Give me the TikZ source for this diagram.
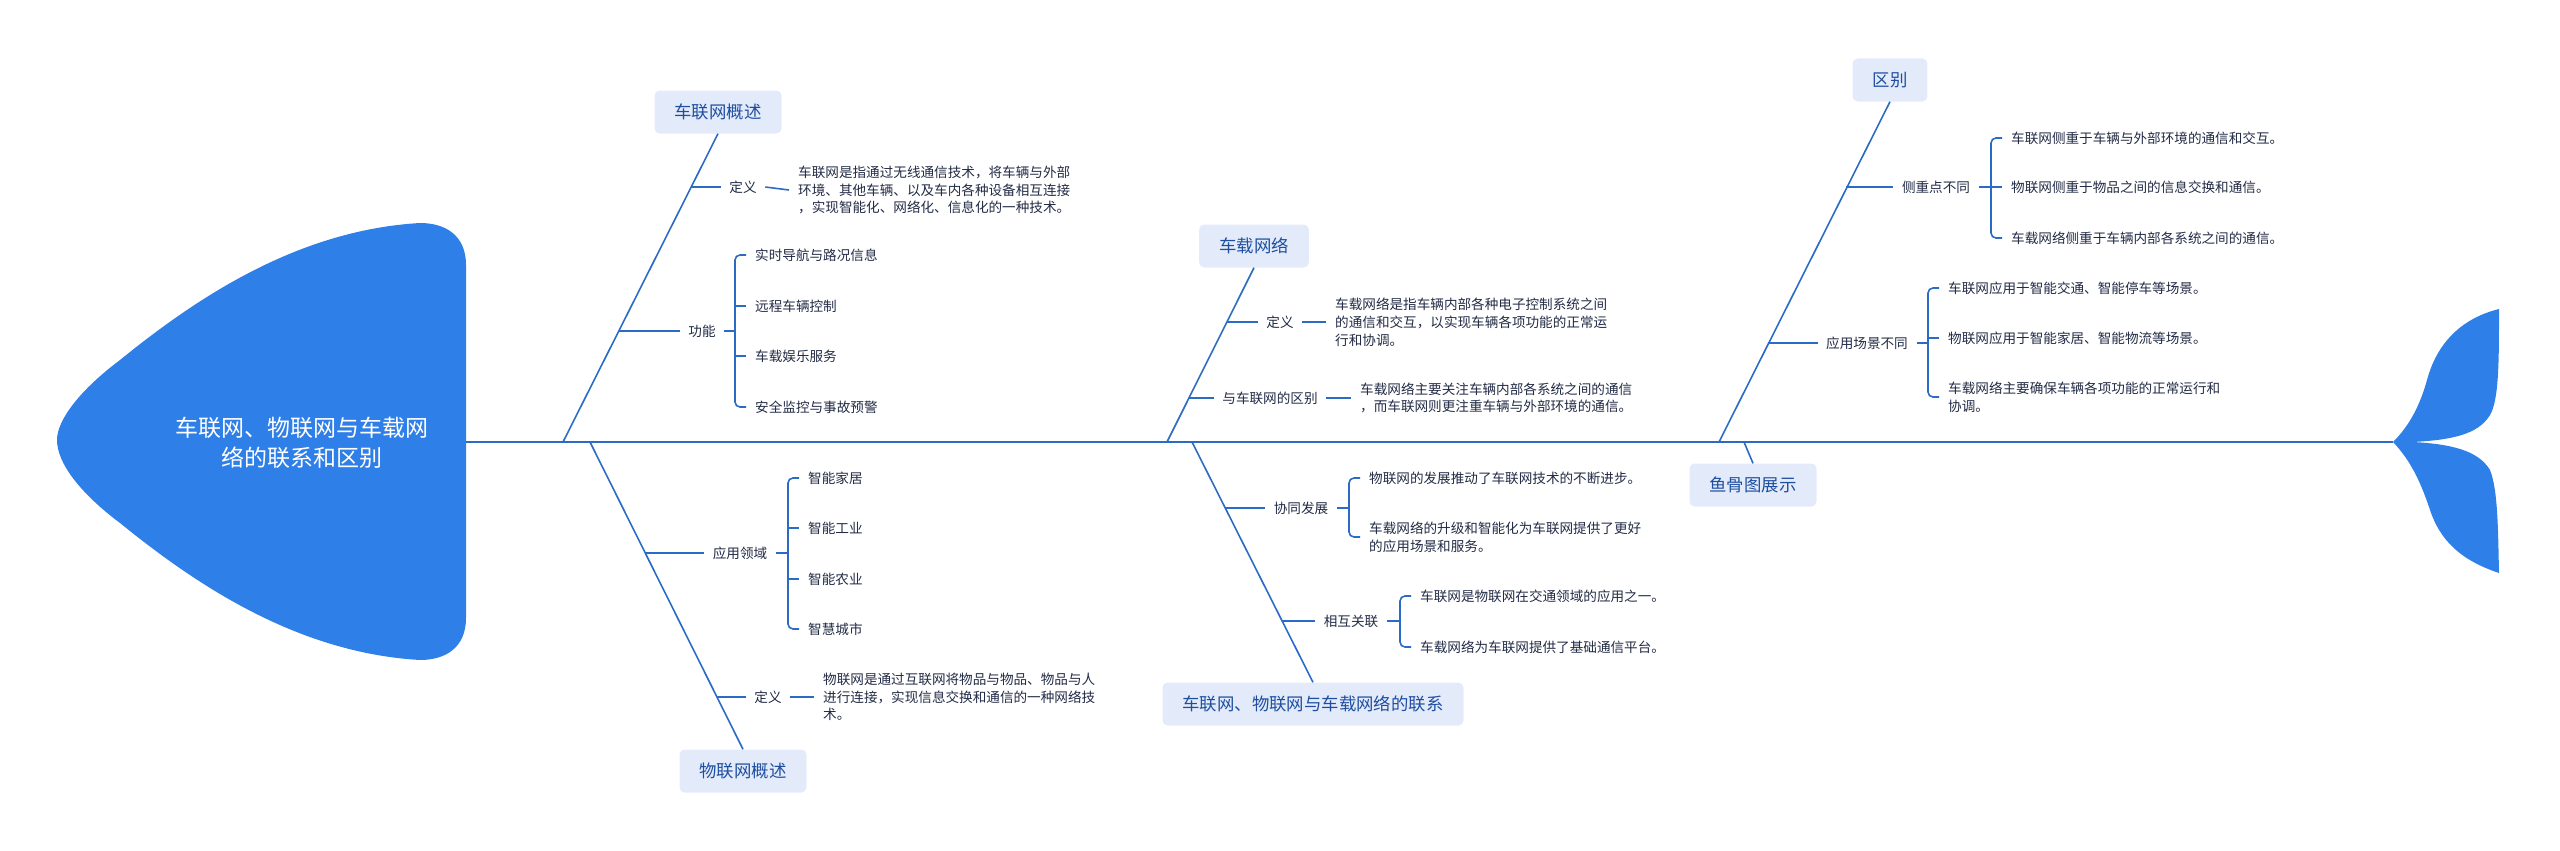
\documentclass[tikz,border=0pt]{standalone}
\usepackage{fontspec}
\setmainfont{Noto Sans CJK SC}
\usepackage{tikz}
\usetikzlibrary{positioning,calc}
\definecolor{fishblue}{HTML}{2F7FE8}
\definecolor{bone}    {HTML}{2B6BC5}
\definecolor{capfill} {HTML}{E3EBFB}
\definecolor{captext} {HTML}{1E4EA0}
\definecolor{ink}     {HTML}{222B45}
\tikzset{
  >=stealth,
  % --- nodes
  title/.style  = {text=white, align=center, font=\fontsize{23}{30}\selectfont},
  capbox/.style = {rounded corners=5pt, fill=capfill, text=captext, inner xsep=20pt,
                   minimum height=43pt, font=\fontsize{17.4}{21}\selectfont},
  lbl/.style    = {text=ink, inner xsep=8.5pt, inner ysep=2pt,
                   font=\fontsize{13.6}{17.8}\selectfont},
  txt/.style    = {text=ink, anchor=west, align=left, inner sep=0pt,
                   font=\fontsize{13.6}{17.8}\selectfont},
  % --- edges
  spine/.style  = {draw=bone, line width=2pt},
  bonel/.style  = {draw=bone, line width=1.6pt},
  twig/.style   = {draw=bone, line width=1.6pt},
  brace/.style  = {twig, rounded corners=5pt},
}
\begin{document}
\begin{tikzpicture}[x=1pt,y=-1pt]
  \useasboundingbox (0,0) rectangle (2560,851);
  % head and tail
  \fill[fishblue] (57,440) .. controls (57,420) and (80,390) .. (120,360)
    .. controls (200,295) and (300,230) .. (420,223)
    .. controls (445,223) and (466,235) .. (466,265) -- (466,618)
    .. controls (466,648) and (445,660) .. (420,660)
    .. controls (300,653) and (200,588) .. (120,523)
    .. controls (80,493) and (57,463) .. (57,440) -- cycle;
  \fill[fishblue] (2393,442) .. controls (2410,425) and (2420,405) .. (2427,380)
    .. controls (2435,350) and (2455,320) .. (2499,309)
    .. controls (2499,360) and (2499,400) .. (2490,415)
    .. controls (2478,435) and (2450,440) .. (2413,442)
    .. controls (2450,444) and (2478,450) .. (2490,470)
    .. controls (2498,490) and (2498,530) .. (2499,573)
    .. controls (2460,560) and (2440,540) .. (2430,510)
    .. controls (2420,480) and (2410,460) .. (2393,442) -- cycle;
  \node[title] (hd) at (302,443) {车联网、物联网与车载网\\络的联系和区别};

  % spine
  \coordinate (sp0) at (466,442);
  \coordinate (sp1) at (2393,442);
  \draw[spine] (sp0) -- (sp1);

  % big bones
  \coordinate (s1) at (563,442);
  \coordinate (s2) at (590,442);
  \coordinate (s3) at (1167,442);
  \coordinate (s4) at (1192,442);
  \coordinate (s5) at (1719,442);
  \coordinate (s6) at (1744,442);
  \node[capbox] (c1) at (718,112) {车联网概述};
  \node[capbox] (c2) at (743,771) {物联网概述};
  \node[capbox] (c3) at (1254,246) {车载网络};
  \node[capbox] (c4) at (1313,704) {车联网、物联网与车载网络的联系};
  \node[capbox] (c5) at (1890,80) {区别};
  \node[capbox] (c6) at (1753,485) {鱼骨图展示};
  \draw[bonel] (s1) -- (c1.south);
  \draw[bonel] (s2) -- (c2.north);
  \draw[bonel] (s3) -- (c3.south);
  \draw[bonel] (s4) -- (c4.north);
  \draw[bonel] (s5) -- (c5.south);
  \draw[bonel] (s6) -- (c6.north);

  % 车联网概述
  \coordinate (p1a) at (691,187);
  \node[lbl] (l1a) at (743,187) {定义};
  \node[txt] (t1a) at (798,190) {车联网是指通过无线通信技术，将车辆与外部\\环境、其他车辆、以及车内各种设备相互连接\\，实现智能化、网络化、信息化的一种技术。};
  \draw[twig] (p1a) -- (l1a.west);
  \draw[twig] (l1a.east) -- ([xshift=-9pt]t1a.west);
  \coordinate (p1b) at (619,331);
  \node[lbl] (l1b) at (702,331) {功能};
  \node[txt] (f11) at (755,255) {实时导航与路况信息};
  \node[txt] (f12) at (755,306) {远程车辆控制};
  \node[txt] (f13) at (755,356) {车载娱乐服务};
  \node[txt] (f14) at (755,407) {安全监控与事故预警};
  \coordinate (b1) at ([xshift=-20pt]f11.west);
  \draw[twig] (p1b) -- (l1b.west);
  \draw[twig] (l1b.east) -- (l1b.east -| b1);
  \draw[brace] ([xshift=-9pt]f11.west) -| ([xshift=-20pt]f14.west) -- ([xshift=-9pt]f14.west);
  \foreach \f in {f12,f13}
    \draw[twig] (\f.west -| b1) -- ([xshift=-9pt]\f.west);

  % 物联网概述
  \coordinate (p2a) at (646,553);
  \node[lbl] (l2a) at (740,553) {应用领域};
  \node[txt] (f21) at (808,478) {智能家居};
  \node[txt] (f22) at (808,528) {智能工业};
  \node[txt] (f23) at (808,579) {智能农业};
  \node[txt] (f24) at (808,629) {智慧城市};
  \coordinate (b2) at ([xshift=-20pt]f21.west);
  \draw[twig] (p2a) -- (l2a.west);
  \draw[twig] (l2a.east) -- (l2a.east -| b2);
  \draw[brace] ([xshift=-9pt]f21.west) -| ([xshift=-20pt]f24.west) -- ([xshift=-9pt]f24.west);
  \foreach \f in {f22,f23}
    \draw[twig] (\f.west -| b2) -- ([xshift=-9pt]\f.west);
  \coordinate (p2b) at (717,697);
  \node[lbl] (l2b) at (768,697) {定义};
  \node[txt] (t2b) at (823,697) {物联网是通过互联网将物品与物品、物品与人\\进行连接，实现信息交换和通信的一种网络技\\术。};
  \draw[twig] (p2b) -- (l2b.west);
  \draw[twig] (l2b.east) -- ([xshift=-9pt]t2b.west);

  % 车载网络
  \coordinate (p3a) at (1227,322);
  \node[lbl] (l3a) at (1280,322) {定义};
  \node[txt] (t3a) at (1335,322) {车载网络是指车辆内部各种电子控制系统之间\\的通信和交互，以实现车辆各项功能的正常运\\行和协调。};
  \draw[twig] (p3a) -- (l3a.west);
  \draw[twig] (l3a.east) -- ([xshift=-9pt]t3a.west);
  \coordinate (p3b) at (1189,398);
  \node[lbl] (l3b) at (1270,398) {与车联网的区别};
  \node[txt] (t3b) at (1360,398) {车载网络主要关注车辆内部各系统之间的通信\\，而车联网则更注重车辆与外部环境的通信。};
  \draw[twig] (p3b) -- (l3b.west);
  \draw[twig] (l3b.east) -- ([xshift=-9pt]t3b.west);

  % 联系
  \coordinate (p4a) at (1226,508);
  \node[lbl] (l4a) at (1301,508) {协同发展};
  \node[txt] (f41) at (1369,478) {物联网的发展推动了车联网技术的不断进步。};
  \node[txt] (f42) at (1369,537) {车载网络的升级和智能化为车联网提供了更好\\的应用场景和服务。};
  \coordinate (b4) at ([xshift=-20pt]f41.west);
  \draw[twig] (p4a) -- (l4a.west);
  \draw[twig] (l4a.east) -- (l4a.east -| b4);
  \draw[brace] ([xshift=-9pt]f41.west) -| ([xshift=-20pt]f42.west) -- ([xshift=-9pt]f42.west);
  \coordinate (p4b) at (1282,621);
  \node[lbl] (l4b) at (1351,621) {相互关联};
  \node[txt] (f43) at (1420,596) {车联网是物联网在交通领域的应用之一。};
  \node[txt] (f44) at (1420,647) {车载网络为车联网提供了基础通信平台。};
  \coordinate (b5) at ([xshift=-20pt]f43.west);
  \draw[twig] (p4b) -- (l4b.west);
  \draw[twig] (l4b.east) -- (l4b.east -| b5);
  \draw[brace] ([xshift=-9pt]f43.west) -| ([xshift=-20pt]f44.west) -- ([xshift=-9pt]f44.west);

  % 区别
  \coordinate (p5a) at (1846,187);
  \node[lbl] (l5a) at (1936,187) {侧重点不同};
  \node[txt] (f51) at (2011,138) {车联网侧重于车辆与外部环境的通信和交互。};
  \node[txt] (f52) at (2011,187) {物联网侧重于物品之间的信息交换和通信。};
  \node[txt] (f53) at (2011,238) {车载网络侧重于车辆内部各系统之间的通信。};
  \coordinate (b6) at ([xshift=-20pt]f51.west);
  \draw[twig] (p5a) -- (l5a.west);
  \draw[twig] (l5a.east) -- (l5a.east -| b6);
  \draw[brace] ([xshift=-9pt]f51.west) -| ([xshift=-20pt]f53.west) -- ([xshift=-9pt]f53.west);
  \draw[twig] (f52.west -| b6) -- ([xshift=-9pt]f52.west);
  \coordinate (p5b) at (1768,343);
  \node[lbl] (l5b) at (1867,343) {应用场景不同};
  \node[txt] (f54) at (1948,288) {车联网应用于智能交通、智能停车等场景。};
  \node[txt] (f55) at (1948,338) {物联网应用于智能家居、智能物流等场景。};
  \node[txt] (f56) at (1948,397) {车载网络主要确保车辆各项功能的正常运行和\\协调。};
  \coordinate (b7) at ([xshift=-20pt]f54.west);
  \draw[twig] (p5b) -- (l5b.west);
  \draw[twig] (l5b.east) -- (l5b.east -| b7);
  \draw[brace] ([xshift=-9pt]f54.west) -| ([xshift=-20pt]f56.west) -- ([xshift=-9pt]f56.west);
  \draw[twig] (f55.west -| b7) -- ([xshift=-9pt]f55.west);
\end{tikzpicture}
\end{document}
